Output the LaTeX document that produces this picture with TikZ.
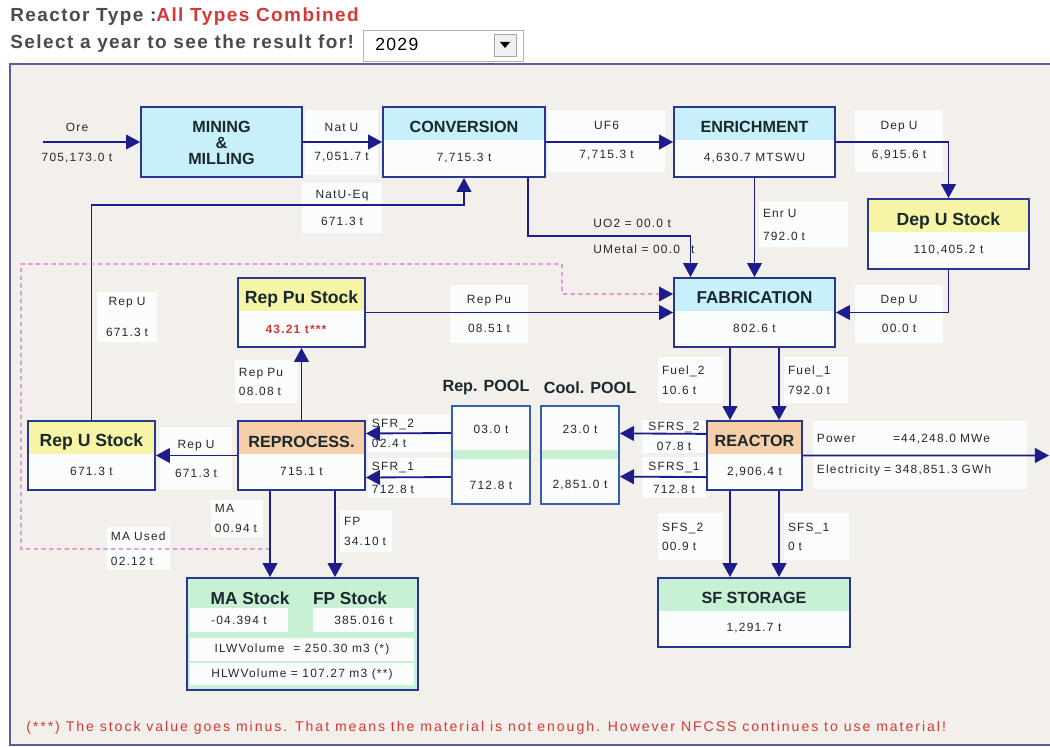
\documentclass[tikz,border=0pt]{standalone}
\usepackage{fontspec}
\setmainfont{Liberation Sans}
\newfontfamily\labfont[LetterSpace=10]{Liberation Sans}
\newfontfamily\headfont[LetterSpace=7.5]{Liberation Sans}
\newfontfamily\notefont[LetterSpace=14]{Liberation Sans}
\usepackage{xcolor}
\definecolor{nfcPanel}{RGB}{243,240,235}
\definecolor{nfcFrame}{RGB}{95,90,165}
\definecolor{nfcLine}{RGB}{28,28,140}
\definecolor{nfcBox}{RGB}{40,55,145}
\definecolor{nfcPool}{RGB}{55,95,175}
\definecolor{nfcCyan}{RGB}{200,240,250}
\definecolor{nfcYellow}{RGB}{247,245,165}
\definecolor{nfcOrange}{RGB}{246,206,168}
\definecolor{nfcGreen}{RGB}{200,240,212}
\definecolor{nfcPaper}{RGB}{251,252,252}
\definecolor{nfcRed}{RGB}{215,55,55}
\definecolor{nfcHead}{RGB}{75,75,75}
\definecolor{nfcDash}{RGB}{215,110,215}
\definecolor{nfcTitle}{RGB}{25,40,45}
\definecolor{nfcText}{RGB}{40,40,40}
\usepackage{tikz}
\usetikzlibrary{arrows.meta, positioning, fit}

\begin{document}
\begin{tikzpicture}[x=0.025cm, y=-0.025cm,
  unit/.style={rectangle, draw=nfcBox, line width=1.3pt, inner sep=0pt, fill=nfcPaper},
  band/.style={unit, path picture={\fill[#1] (path picture bounding box.north west)
               rectangle ([yshift=-0.825cm]path picture bounding box.north east);}},
  pool/.style={unit, draw=nfcPool, path picture={\fill[nfcGreen] ([yshift=-1.1cm]path picture bounding box.north west)
               rectangle ([yshift=-1.325cm]path picture bounding box.north east);}},
  title/.style={font=\fontsize{11.5}{12}\selectfont\bfseries, text=nfcTitle, inner sep=0pt},
  stocktitle/.style={title, font=\fontsize{12.5}{13}\selectfont\bfseries},
  value/.style={font=\labfont\fontsize{8.5}{10}\selectfont, text=nfcText, inner sep=0pt},
  cell/.style={fill=nfcPaper, inner sep=0pt, font=\labfont\fontsize{8.5}{10}\selectfont, text=nfcText},
  tag/.style={fill=nfcPaper, inner xsep=0.1cm, inner ysep=0pt,
              font=\labfont\fontsize{8.5}{10}\selectfont, text=nfcText},
  head/.style={anchor=west, inner sep=0pt, font=\headfont\fontsize{13.5}{15}\selectfont\bfseries, text=nfcHead},
  flow/.style={draw=nfcLine, line width=1.3pt, -{Triangle[length=10pt, width=10.5pt]}},
  mafeed/.style={draw=nfcDash, line width=0.8pt, dash pattern=on 3pt off 2.5pt,
                 -{Triangle[length=10pt, width=10.5pt, color=nfcLine, fill=nfcLine]}},
]
  \useasboundingbox[fill=white] (0,0) rectangle (1050,747);

  % header and year selector
  \node[head] (rtype) at (10,17) {Reactor Type :\textcolor{nfcRed}{All Types Combined}};
  \node[head] (selyear) at (10,44) {Select a year to see the result for!};
  \node[fit={(363,30) (523,61)}, draw=gray!60, fill=white, inner sep=0pt] (yearbox) {};
  \node[anchor=west, inner sep=0pt, font=\headfont\fontsize{12.5}{14}\selectfont] (yeartxt) at (375,44) {2029};
  \node[fit={(494,34) (516,56)}, draw=gray!70, fill=gray!12, inner sep=0pt] (yearbtn) {};
  \fill (500,42) -- (510,42) -- (505,48) -- cycle;

  \node[fit={(10,64) (1060,745)}, draw=nfcFrame, fill=nfcPanel, line width=1.2pt, inner sep=0pt] (panel) {};

  % process units
  \node[unit, fill=nfcCyan, minimum width=4.025cm, minimum height=1.75cm] (mine) at (221.5,142) {};
  \node[title, align=center, font=\fontsize{11.5}{11.5}\selectfont\bfseries] (mine-t) at (221.5,143) {MINING\\\&\\MILLING};

  \node[band=nfcCyan, fit={(383,107) (545,177)}] (conv) {};
  \node[title] (conv-t) at (464,127) {CONVERSION};
  \node[value] (conv-v) at (464,158) {7,715.3 t};

  \node[band=nfcCyan, fit={(674,107) (835,177)}] (enr) {};
  \node[title] (enr-t) at (754.5,127) {ENRICHMENT};
  \node[value] (enr-v) at (754.5,158) {4,630.7 MTSWU};

  \node[band=nfcYellow, fit={(868,199) (1029,269)}] (depst) {};
  \node[stocktitle] (depst-t) at (948.5,221) {Dep U Stock};
  \node[value] (depst-v) at (948.5,250) {110,405.2 t};

  \node[band=nfcCyan, fit={(674,278) (835,347)}] (fab) {};
  \node[title, font=\fontsize{12.2}{13}\selectfont\bfseries] (fab-t) at (754.5,298) {FABRICATION};
  \node[value] (fab-v) at (754.5,328) {802.6 t};

  \node[band=nfcYellow, fit={(238,278) (365,347)}] (repps) {};
  \node[stocktitle] (repps-t) at (301.5,299) {Rep Pu Stock};
  \node[value, text=nfcRed, font=\labfont\fontsize{8.5}{10}\selectfont\bfseries] (repps-v) at (296,329) {43.21 t***};

  \node[band=nfcYellow, fit={(28,421) (155,490)}] (repust) {};
  \node[stocktitle] (repust-t) at (91.5,442) {Rep U Stock};
  \node[value] (repust-v) at (91.5,471) {671.3 t};

  \node[band=nfcOrange, fit={(238,421) (365,490)}] (reproc) {};
  \node[title] (reproc-t) at (301.5,442) {REPROCESS.};
  \node[value] (reproc-v) at (301.5,471) {715.1 t};

  \node[band=nfcOrange, fit={(707,421) (802,490)}] (reactor) {};
  \node[title] (reactor-t) at (754.5,441) {REACTOR};
  \node[value] (reactor-v) at (754.5,472) {2,906.4 t};

  \node[band=nfcGreen, fit={(658,578) (850,647)}] (sfst) {};
  \node[title] (sfst-t) at (754,598) {SF STORAGE};
  \node[value] (sfst-v) at (754,628) {1,291.7 t};

  % pools
  \node[title] (repool-t) at (486,388) {Rep. POOL};
  \node[title] (cpool-t) at (590,388) {Cool. POOL};
  \node[pool, fit={(452,406) (530,504)}] (repool) {};
  \node[value] (repool-a) at (491,429) {03.0 t};
  \node[value] (repool-b) at (491,485) {712.8 t};
  \node[pool, fit={(541,406) (619,504)}] (cpool) {};
  \node[value] (cpool-a) at (580,429) {23.0 t};
  \node[value] (cpool-b) at (580,485) {2,851.0 t};

  % waste stocks
  \node[unit, fill=nfcGreen, fit={(187,578) (418,690)}] (waste) {};
  \node[cell, minimum width=2.45cm, minimum height=0.6cm] (ma-v) at (239,620) {-04.394 t};
  \node[cell, minimum width=2.525cm, minimum height=0.6cm] (fp-v) at (363.5,620) {385.016 t};
  \node[cell, minimum width=5.6cm, minimum height=0.575cm] (ilw) at (302,649.5) {ILWVolume\ \ = 250.30 m3 (*)};
  \node[cell, minimum width=5.6cm, minimum height=0.55cm] (hlw) at (302,674) {HLWVolume = 107.27 m3 (**)};
  \node[title, font=\fontsize{12.3}{13}\selectfont\bfseries] (ma-t) at (250,598) {MA Stock};
  \node[title, font=\fontsize{12.3}{13}\selectfont\bfseries] (fp-t) at (350,598) {FP Stock};

  % flow labels
  \node[tag, fill=none, align=center] (ore-l) at (77,143) {Ore\\[11.3pt]705,173.0 t};
  \node[tag, text width=1.625cm, minimum height=1.625cm, align=center] (natu-l) at (341.5,142.5) {Nat U\\[10.6pt]7,051.7 t};
  \node[tag, text width=2.725cm, minimum height=1.55cm, align=center] (uf6-l) at (606.5,141) {UF6\\[10.6pt]7,715.3 t};
  \node[tag, text width=2.0cm, minimum height=1.55cm, align=center] (depu-l) at (899,141) {Dep U\\[10.6pt]6,915.6 t};
  \node[tag, text width=1.8cm, minimum height=1.25cm, align=center] (natueq-l) at (342,208) {NatU-Eq\\[9.2pt]671.3 t};
  \node[tag, text width=1.3cm, minimum height=1.25cm, align=center] (repu-l) at (127,317) {Rep U\\[12pt]671.3 t};
  \node[tag, text width=1.6cm, minimum height=1.575cm, align=center] (repu2-l) at (196,458.5) {Rep U\\[10.6pt]671.3 t};
  \node[tag, text width=1.35cm, minimum height=1.075cm, align=left] (reppu-l) at (266,381.5) {Rep Pu\\[3.5pt]08.08 t};
  \node[tag, text width=1.75cm, minimum height=1.45cm, align=center] (reppu2-l) at (489,314) {Rep Pu\\[10.6pt]08.51 t};
  \node[tag, text width=2.025cm, minimum height=1.125cm, align=left] (enru-l) at (803.5,224.5) {Enr U\\[6.4pt]792.0 t};
  \node[tag, fill=none, anchor=west, align=left] (uo2-l) at (589,236) {UO2 = 00.0 t\\[8.5pt]UMetal = 00.0\hspace{8pt}t};
  \node[tag, text width=2.0cm, minimum height=1.45cm, align=center] (depu2-l) at (899,314) {Dep U\\[10.6pt]00.0 t};
  \node[tag, text width=1.85cm, minimum height=0.95cm, align=left] (sfr2-l) at (409,433) {SFR\_2\\[4.2pt]02.4 t};
  \node[tag, text width=1.85cm, minimum height=1.0cm, align=left] (sfr1-l) at (409,478) {SFR\_1\\[6.4pt]712.8 t};
  \node[tag, text width=1.4cm, minimum height=0.825cm, align=center] (sfrs2-l) at (674,436.5) {SFRS\_2\\[4.2pt]07.8 t};
  \node[tag, text width=1.4cm, minimum height=1.025cm, align=center] (sfrs1-l) at (674,477.5) {SFRS\_1\\[6.4pt]712.8 t};
  \node[tag, text width=1.425cm, minimum height=1.15cm, align=left] (fuel2-l) at (690.5,380) {Fuel\_2\\[4.2pt]10.6 t};
  \node[tag, text width=1.4cm, minimum height=1.15cm, align=left] (fuel1-l) at (816,380) {Fuel\_1\\[4.2pt]792.0 t};
  \node[tag, text width=5.15cm, minimum height=1.7cm, align=left] (power-l) at (920,455)
       {\makebox[1.9cm][l]{Power}=44,248.0 MWe\\[12pt]Electricity = 348,851.3 GWh};
  \node[tag, text width=1.425cm, minimum height=1.175cm, align=left] (sfs2-l) at (690.5,536.5) {SFS\_2\\[3.5pt]00.9 t};
  \node[tag, text width=1.425cm, minimum height=1.175cm, align=left] (sfs1-l) at (816.5,536.5) {SFS\_1\\[3.5pt]0 t};
  \node[tag, text width=1.1cm, minimum height=0.925cm, align=left] (ma-l) at (237,518.5) {MA\\[4.2pt]00.94 t};
  \node[tag, text width=1.1cm, minimum height=1.05cm, align=left] (fp-l) at (366,531) {FP\\[4.2pt]34.10 t};
  \node[tag, text width=1.375cm, minimum height=1.075cm, align=left] (maused-l) at (138.5,548.5) {MA Used\\[7.8pt]02.12 t};

  % flows
  \coordinate (orein) at (43,142);
  \coordinate (powout) at (1049,455.5);
  \coordinate (mause) at (270,549);

  \draw[flow] (orein) -- (mine.west);
  \draw[flow] (mine.east) -- (conv.west);
  \draw[flow] (conv.east) -- (enr.west);
  \draw[flow] (enr.east) -| (depst.north);
  \draw[flow] (depst.south) |- (fab.east);
  \draw[flow] (enr.south) -- (fab.north);
  \draw[flow] ([xshift=1.6cm]conv.south) -- ++(0,58) -| ([xshift=-1.6cm]fab.north);
  \draw[flow] (repust.north) -- ++(0,-215) -| (conv.south);
  \draw[flow] (repps.east) -- (fab.west);
  \draw[mafeed] (mause) -| (21,264) -| (562,294) -- ([yshift=0.4625cm]fab.west);
  \draw[flow] (reproc.north) -- (repps.south);
  \draw[flow] (reproc.west) -- (repust.east);
  \draw[flow] ([yshift=0.55cm]repool.west) -- ([yshift=0.55cm]reproc.east);
  \draw[flow] ([yshift=-0.55cm]repool.west) -- ([yshift=-0.55cm]reproc.east);
  \draw[flow] ([yshift=0.54cm]reactor.west) -- ([yshift=0.54cm]cpool.east);
  \draw[flow] ([yshift=-0.54cm]reactor.west) -- ([yshift=-0.54cm]cpool.east);
  \draw[flow] ([xshift=-0.6125cm]fab.south) -- ([xshift=-0.6125cm]reactor.north);
  \draw[flow] ([xshift=0.6125cm]fab.south) -- ([xshift=0.6125cm]reactor.north);
  \draw[flow] (reactor.east) -- (powout);
  \draw[flow] ([xshift=-0.6125cm]reactor.south) -- ([xshift=-0.6cm]sfst.north);
  \draw[flow] ([xshift=0.6125cm]reactor.south) -- ([xshift=0.625cm]sfst.north);
  \draw[flow] ([xshift=-0.7875cm]reproc.south) -- ([xshift=-0.8125cm]waste.north);
  \draw[flow] ([xshift=0.8375cm]reproc.south) -- ([xshift=0.8125cm]waste.north);

  \node[anchor=west, inner sep=0pt, font=\notefont\fontsize{10}{12}\selectfont, text=nfcRed] (footnote) at (26,728)
       {(***) The stock value goes minus. That means the material is not enough. However NFCSS continues to use material!};
\end{tikzpicture}
\end{document}
